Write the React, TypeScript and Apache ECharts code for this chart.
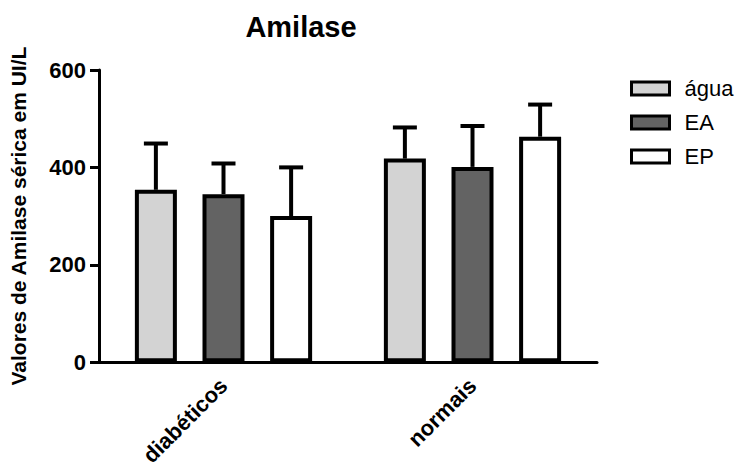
import React, { useEffect, useRef } from "react";
import * as echarts from "echarts";

const categories = ["diabéticos", "normais"];
const seriesNames = ["água", "EA", "EP"];
const aguaValues = [354, 418];
const eaValues = [345, 401];
const epValues = [300, 463];
const aguaErrors = [95, 64];
const eaErrors = [63, 84];
const epErrors = [100, 66];
const yTicks = [0, 200, 400, 600];

const FONT = "'Liberation Sans', Arial, Helvetica, sans-serif";
const colors = ["#d3d3d3", "#636363", "#ffffff"];
const BAR_W = 42;
const BAR_GAP = "61%";

export default function App() {
  const ref = useRef<HTMLDivElement>(null);
  useEffect(() => {
    if (!ref.current) return;
    const chart = echarts.init(ref.current, undefined, { renderer: "svg" });
    const values = [aguaValues, eaValues, epValues];
    const errors = [aguaErrors, eaErrors, epErrors];

    const barSeries = seriesNames.map((name, i) => ({
      name,
      type: "bar",
      data: values[i],
      barWidth: BAR_W,
      barGap: BAR_GAP,
      itemStyle: { color: colors[i], borderColor: "#000", borderWidth: 4 },
      z: 3,
    }));

    const errSeries = seriesNames.map((name, i) => ({
      type: "custom",
      name: name + "_err",
      z: 2,
      silent: true,
      data: categories.map((_, j) => [j, values[i][j], errors[i][j]]),
      renderItem: (params: any, api: any) => {
        const idx = api.value(0);
        const v = api.value(1);
        const e = api.value(2);
        let offset = (i - 1) * (BAR_W * 1.61);
        try {
          const layout = api.barLayout({ barWidth: BAR_W, barGap: BAR_GAP, count: 3 });
          if (layout && layout[i]) offset = layout[i].offsetCenter;
        } catch (err) {}
        const base = api.coord([idx, v]);
        const top = api.coord([idx, v + e]);
        const x = base[0] + offset;
        const capHalf = 12;
        return {
          type: "group",
          children: [
            {
              type: "line",
              shape: { x1: x, y1: base[1], x2: x, y2: top[1] },
              style: { stroke: "#000", lineWidth: 4 },
            },
            {
              type: "line",
              shape: { x1: x - capHalf, y1: top[1], x2: x + capHalf, y2: top[1] },
              style: { stroke: "#000", lineWidth: 4 },
            },
          ],
        };
      },
    }));

    chart.setOption({
      animation: false,
      textStyle: { fontFamily: FONT },
      graphic: [
        {
          type: "text",
          x: 301,
          y: 27,
          style: {
            text: "Amilase",
            font: `bold 29px ${FONT}`,
            fill: "#000",
            textAlign: "center",
            textVerticalAlign: "middle",
          },
        },
      ],
      legend: {
        data: seriesNames,
        orient: "vertical",
        left: 630,
        top: 77,
        padding: 0,
        itemWidth: 38,
        itemHeight: 13,
        itemGap: 11,
        icon: "rect",
        textStyle: { fontFamily: FONT, fontSize: 22, color: "#000", lineHeight: 23, padding: [0, 0, 0, 10] },
        itemStyle: { borderColor: "#000", borderWidth: 3 },
      },
      grid: { left: 98, right: 151, top: 70, bottom: 106, containLabel: false },
      xAxis: {
        type: "category",
        data: categories,
        axisLine: { lineStyle: { color: "#000", width: 3 } },
        axisTick: { alignWithLabel: true, length: 8, lineStyle: { color: "#000", width: 3 } },
        axisLabel: {
          rotate: 45,
          margin: 20,
          fontFamily: FONT,
          fontWeight: "bold",
          fontSize: 22,
          color: "#000",
        },
      },
      yAxis: {
        type: "value",
        min: 0,
        max: 600,
        interval: 200,
        name: "Valores de Amilase sérica em UI/L",
        nameLocation: "middle",
        nameGap: 70,
        nameTextStyle: { fontFamily: FONT, fontWeight: "bold", fontSize: 21, color: "#000" },
        axisLine: { show: true, lineStyle: { color: "#000", width: 3 } },
        axisTick: { show: true, length: 9, lineStyle: { color: "#000", width: 3 } },
        splitLine: { show: false },
        axisLabel: {
          margin: 13,
          fontFamily: FONT,
          fontWeight: "bold",
          fontSize: 22,
          color: "#000",
          formatter: (v: number) => (yTicks.includes(v) ? String(v) : ""),
        },
      },
      series: [...barSeries, ...errSeries],
    });
    return () => chart.dispose();
  }, []);
  return <div ref={ref} style={{ width: 748, height: 469, position: "absolute", left: 0, top: 0, background: "#fff" }} />;
}
